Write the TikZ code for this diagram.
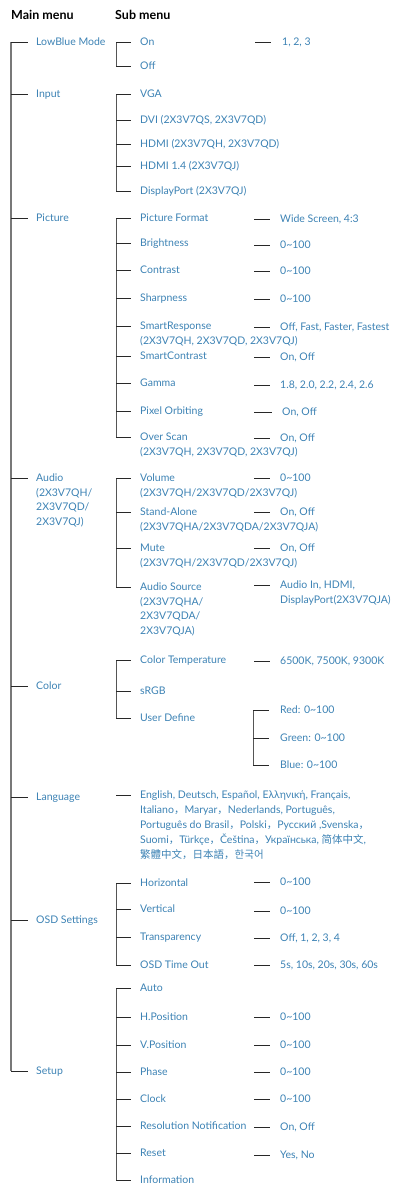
\documentclass[tikz,border=0pt]{standalone}
\usepackage{fontspec}
\setmainfont{Lato}
\newfontfamily\cjk{Noto Sans CJK SC}
\definecolor{tblue}{RGB}{60,130,180}
\definecolor{mgray}{RGB}{120,120,120}
\definecolor{sgray}{RGB}{85,85,85}
\definecolor{hdark}{RGB}{40,40,40}
\newcommand\itm[4]{\coordinate (#1-c) at (#2,#3); \node[txt] (#1) at (#1-c) {#4};}
\newcommand\mlines[1]{\begin{tabular}[t]{@{}l@{}}#1\end{tabular}}
\begin{document}
\begin{tikzpicture}[x=1pt,y=-1pt,
  txt/.style={anchor=base west, inner sep=0pt, text=tblue, yshift=-3.6pt,
    font=\fontsize{10.5}{14.5}\selectfont},
  hdr/.style={anchor=base west, inner sep=0pt, yshift=-4.2pt, font=\fontsize{12.5}{14}\selectfont\bfseries},
  mline/.style={draw=mgray, line width=1.1pt},
  vline/.style={draw=sgray, line width=1pt},
  hline/.style={draw=hdark, line width=0.9pt}]
\useasboundingbox (0,0) rectangle (398,1184);
% headers
\node[hdr] (hmain) at (11,15) {Main menu};
\node[hdr] (hsub) at (115,15) {Sub menu};
% main items
\itm{lb}{36}{42}{LowBlue Mode}
\itm{inp}{36}{94}{Input}
\itm{pic}{36}{218}{Picture}
\itm{aud}{36}{478}{\mlines{Audio\\(2X3V7QH/\\2X3V7QD/\\2X3V7QJ)}}
\itm{col}{36}{686}{Color}
\itm{lang}{36}{797}{Language}
\itm{osd}{36}{920}{OSD Settings}
\itm{set}{36}{1071}{Setup}
\coordinate (mx) at (11,0);
\coordinate (sx) at (116,0);
\draw[mline] (mx |- lb-c) -- (mx |- set-c);
\foreach \n in {lb,inp,pic,aud,col,lang,osd,set}
  \draw[hline] (mx |- \n-c) -- ([xshift=-8pt]\n-c);
% LowBlue
\itm{on}{140}{42}{On}
\itm{off}{140}{66}{Off}
\itm{von}{282}{42}{1, 2, 3}
% Input
\itm{vga}{140}{94}{VGA}
\itm{dvi}{140}{120}{DVI (2X3V7QS, 2X3V7QD)}
\itm{hdmi}{140}{144}{HDMI (2X3V7QH, 2X3V7QD)}
\itm{hdmi14}{140}{166}{HDMI 1.4 (2X3V7QJ)}
\itm{dp}{140}{191}{DisplayPort (2X3V7QJ)}
% Picture
\itm{pf}{140}{218}{Picture Format}
\itm{br}{140}{243}{Brightness}
\itm{ct}{140}{270}{Contrast}
\itm{sh}{140}{298}{Sharpness}
\itm{sr}{140}{326}{\mlines{SmartResponse\\(2X3V7QH, 2X3V7QD, 2X3V7QJ)}}
\itm{sc}{140}{356}{SmartContrast}
\itm{gm}{140}{383}{Gamma}
\itm{po}{140}{411}{Pixel Orbiting}
\itm{os}{140}{437}{\mlines{Over Scan\\(2X3V7QH, 2X3V7QD, 2X3V7QJ)}}
\itm{vpf}{280}{219}{Wide Screen, 4:3}
\itm{vbr}{280}{245}{0\textasciitilde100}
\itm{vct}{280}{271}{0\textasciitilde100}
\itm{vsh}{280}{299}{0\textasciitilde100}
\itm{vsr}{280}{327}{Off, Fast, Faster, Fastest}
\itm{vsc}{280}{357}{On, Off}
\itm{vgm}{280}{385}{1.8, 2.0, 2.2, 2.4, 2.6}
\itm{vpo}{282}{412}{On, Off}
\itm{vos}{280}{438}{On, Off}
% Audio
\itm{vol}{140}{478}{\mlines{Volume\\(2X3V7QH/2X3V7QD/2X3V7QJ)}}
\itm{sa}{140}{512}{\mlines{Stand-Alone\\(2X3V7QHA/2X3V7QDA/2X3V7QJA)}}
\itm{mu}{140}{548}{\mlines{Mute\\(2X3V7QH/2X3V7QD/2X3V7QJ)}}
\itm{as}{140}{587}{\mlines{Audio Source\\(2X3V7QHA/\\2X3V7QDA/\\2X3V7QJA)}}
\itm{vvol}{280}{478}{0\textasciitilde100}
\itm{vsa}{280}{512}{On, Off}
\itm{vmu}{280}{548}{On, Off}
\itm{vas}{280}{585}{\mlines{Audio In, HDMI,\\DisplayPort(2X3V7QJA)}}
% Color
\itm{ctp}{140}{660}{Color Temperature}
\itm{srgb}{140}{691}{sRGB}
\itm{ud}{140}{718}{User Define}
\itm{vctp}{280}{661}{6500K, 7500K, 9300K}
\itm{red}{280}{710}{Red: 0\textasciitilde100}
\itm{green}{280}{738}{Green: 0\textasciitilde100}
\itm{blue}{280}{765}{Blue: 0\textasciitilde100}
% Language
\itm{ll}{140}{795}{\renewcommand\arraystretch{1.034}\mlines{English, Deutsch, Español, Ελληνική, Français,\\
Italiano{\cjk，}Maryar{\cjk，}Nederlands, Português,\\
Português do Brasil{\cjk，}Polski{\cjk，}Русский ,Svenska{\cjk，}\\
Suomi{\cjk，}Türkçe{\cjk，}Čeština{\cjk，}Українська, {\cjk 简体中文},\\
{\cjk 繁體中文，日本語，한국어}}}
% OSD
\itm{hz}{140}{883}{Horizontal}
\itm{vt}{140}{909}{Vertical}
\itm{tr}{140}{937}{Transparency}
\itm{to}{140}{965}{OSD Time Out}
\itm{vhz}{280}{882}{0\textasciitilde100}
\itm{vvt}{280}{911}{0\textasciitilde100}
\itm{vtr}{280}{938}{Off, 1, 2, 3, 4}
\itm{vto}{280}{965}{5s, 10s, 20s, 30s, 60s}
% Setup
\itm{auto}{140}{988}{Auto}
\itm{hp}{140}{1017}{H.Position}
\itm{vp}{140}{1045}{V.Position}
\itm{ph}{140}{1072}{Phase}
\itm{ck}{140}{1099}{Clock}
\itm{rn}{140}{1126}{Resolution Notification}
\itm{rs}{140}{1153}{Reset}
\itm{inf}{140}{1180}{Information}
\itm{vhp}{280}{1017}{0\textasciitilde100}
\itm{vvp}{280}{1045}{0\textasciitilde100}
\itm{vph}{280}{1072}{0\textasciitilde100}
\itm{vck}{280}{1099}{0\textasciitilde100}
\itm{vrn}{280}{1127}{On, Off}
\itm{vrs}{280}{1155}{Yes, No}
% sub verticals
\draw[vline] (sx |- on-c) -- (sx |- off-c);
\draw[vline] (sx |- vga-c) -- (sx |- dp-c);
\draw[vline] (sx |- pf-c) -- (sx |- os-c);
\draw[vline] (sx |- vol-c) -- (sx |- as-c);
\draw[vline] (sx |- ctp-c) -- (sx |- ud-c);
\draw[vline] (sx |- hz-c) -- (sx |- to-c);
\draw[vline] (sx |- auto-c) -- (sx |- inf-c);
\foreach \n in {on,off,vga,dvi,hdmi,hdmi14,dp,pf,br,ct,sh,sr,sc,gm,po,os,vol,sa,mu,as,ctp,srgb,ud,ll,hz,vt,tr,to,auto,hp,vp,ph,ck,rn,rs,inf}
  \draw[hline] (sx |- \n-c) -- ([xshift=-9pt]\n-c);
% value dashes
\foreach \n in {vpf,vbr,vct,vsh,vsr,vsc,vgm,vos,vvol,vsa,vmu,vas,vctp,vhz,vvt,vtr,vto,vhp,vvp,vph,vck,vrn,vrs}
  \draw[hline] ([xshift=-26pt]\n-c) -- ([xshift=-10pt]\n-c);
\draw[hline] ([xshift=-27pt]von-c) -- ([xshift=-11pt]von-c);
\draw[hline] ([xshift=-28pt]vpo-c) -- ([xshift=-10pt]vpo-c);
% user define sub-tree
\coordinate (ux) at (253,0);
\draw[vline] (ux |- red-c) -- (ux |- blue-c);
\foreach \n in {red,green,blue}
  \draw[hline] (ux |- \n-c) -- ([xshift=-11pt]\n-c);
\end{tikzpicture}
\end{document}
